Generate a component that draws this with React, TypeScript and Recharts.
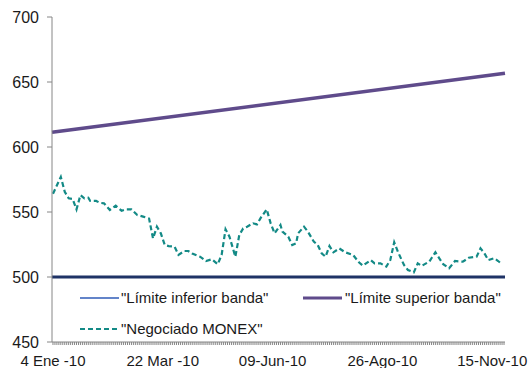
import React from 'react';
import { LineChart, Line, XAxis, YAxis } from 'recharts';

// Trading-day index of each labelled date on the category axis
const tickDays = [0, 56, 112, 168, 224];
const tickLabels = ['4 Ene -10', '22 Mar -10', '09-Jun-10', '26-Ago-10', '15-Nov-10'];

// One minor tick per trading day
const dayTicks = Array.from({ length: 231 }, (_, i) => i);

const yTicks = [450, 500, 550, 600, 650, 700];

// Band limits (straight lines across the period)
const bandDays = [-0.5, 230.5];
const lowerBandValues = [500, 500];
const upperBandValues = [611.3, 656.8];

// Negotiated MONEX rate, sampled by trading day
const monexDays = [
  0, 4, 6, 8, 10, 12, 14, 16, 18, 19, 22, 24, 26, 29, 32, 35, 37, 40, 43, 46,
  49, 51, 53, 55, 57, 59, 62, 64, 67, 69, 71, 75, 78, 81, 84, 86, 88, 90, 93, 95,
  97, 99, 102, 104, 106, 109, 111, 113, 116, 117, 120, 122, 124, 125, 128, 130, 133, 135, 137, 139,
  141, 143, 146, 149, 152, 153, 156, 158, 162, 164, 167, 170, 172, 174, 176, 179, 181, 184, 186, 188,
  192, 193, 195, 197, 199, 202, 205, 209, 212, 216, 218, 220, 222, 225, 227, 229,
];
const monexValues = [
  564, 577, 565.6, 560.5, 560, 552, 563, 560.5, 561, 558.5, 558.5, 557, 556.7, 551.5, 554.8, 551, 552, 552, 547.7, 546.4,
  545, 529.7, 538.7, 533.6, 524.6, 523.8, 523.3, 517, 520, 520, 518, 515.6, 512.3, 513.6, 509.8, 517, 536.7, 531, 515.6, 532.3,
  537.4, 538.7, 541.3, 540.5, 545.6, 552, 541.3, 533.6, 540, 534.9, 531, 524.6, 525.9, 533.6, 538.7, 534.9, 527.2, 524.6, 518.2, 515.6,
  523.8, 519, 522, 519, 517.4, 517, 511.3, 508.7, 513, 510.5, 510.5, 508, 513, 526.7, 519, 509.2, 505.4, 503.6, 510.5, 508.5,
  512, 514.4, 519, 514.4, 509.8, 506.7, 512.3, 511.8, 514.8, 515.6, 522, 518.2, 513, 514.4, 512.3, 509.8,
];

const lowerBand = bandDays.map((day, i) => ({ day, value: lowerBandValues[i] }));
const upperBand = bandDays.map((day, i) => ({ day, value: upperBandValues[i] }));
const monex = monexDays.map((day, i) => ({ day, value: monexValues[i] }));

const FONT = 'Liberation Sans';
const TEXT_COLOR = '#1a1a1a';
const AXIS_GRAY = '#868686';
const LOWER_COLOR = '#1F3366';
const LOWER_LEGEND = '#2F5BB7';
const UPPER_COLOR = '#5F4B8B';
const MONEX_COLOR = '#138A86';

const labelFor = (v: number) => {
  const k = tickDays.indexOf(v);
  return k >= 0 ? tickLabels[k] : '';
};

const legendText: React.CSSProperties = {
  position: 'absolute',
  fontFamily: FONT,
  fontSize: 15,
  color: TEXT_COLOR,
  lineHeight: '17px',
  whiteSpace: 'nowrap',
};

function LegendOverlay() {
  return (
    <div style={{ position: 'absolute', left: 0, top: 0, width: 530, height: 368, pointerEvents: 'none' }}>
      <svg width={530} height={368} style={{ position: 'absolute', left: 0, top: 0 }}>
        <line x1={80} y1={298} x2={119} y2={298} stroke={LOWER_LEGEND} strokeWidth={1.5} />
        <line x1={303} y1={298} x2={342} y2={298} stroke={UPPER_COLOR} strokeWidth={3} />
        <line x1={80} y1={329} x2={119} y2={329} stroke={MONEX_COLOR} strokeWidth={2} strokeDasharray="5 3" />
      </svg>
      <div style={{ ...legendText, left: 121, top: 289 }}>"Límite inferior banda"</div>
      <div style={{ ...legendText, left: 345, top: 289 }}>"Límite superior banda"</div>
      <div style={{ ...legendText, left: 121, top: 320 }}>"Negociado MONEX"</div>
    </div>
  );
}

export default function App() {
  return (
    <div style={{ position: 'absolute', left: 0, top: 0, width: 530, height: 368, background: '#fff' }}>
      <LineChart width={530} height={368} margin={{ top: 17, right: 25, bottom: 0, left: 0 }}>
        <XAxis
          type="number"
          dataKey="day"
          domain={[-0.5, 230.5]}
          ticks={dayTicks}
          interval={0}
          tickFormatter={labelFor}
          height={26}
          tickSize={3}
          tickMargin={10}
          axisLine={{ stroke: AXIS_GRAY }}
          tickLine={{ stroke: AXIS_GRAY }}
          tick={{ fontFamily: FONT, fontSize: 15, fill: TEXT_COLOR }}
        />
        <YAxis
          type="number"
          domain={[450, 700]}
          ticks={yTicks}
          width={52}
          tickSize={5}
          tickMargin={8}
          axisLine={{ stroke: AXIS_GRAY }}
          tickLine={{ stroke: AXIS_GRAY }}
          tick={{ fontFamily: FONT, fontSize: 16, fill: TEXT_COLOR }}
        />
        <Line data={lowerBand} dataKey="value" type="linear" stroke={LOWER_COLOR} strokeWidth={3} dot={false} isAnimationActive={false} />
        <Line data={upperBand} dataKey="value" type="linear" stroke={UPPER_COLOR} strokeWidth={3.5} dot={false} isAnimationActive={false} />
        <Line data={monex} dataKey="value" type="linear" stroke={MONEX_COLOR} strokeWidth={2.2} strokeDasharray="5 3" dot={false} isAnimationActive={false} />
      </LineChart>
      <LegendOverlay />
    </div>
  );
}
